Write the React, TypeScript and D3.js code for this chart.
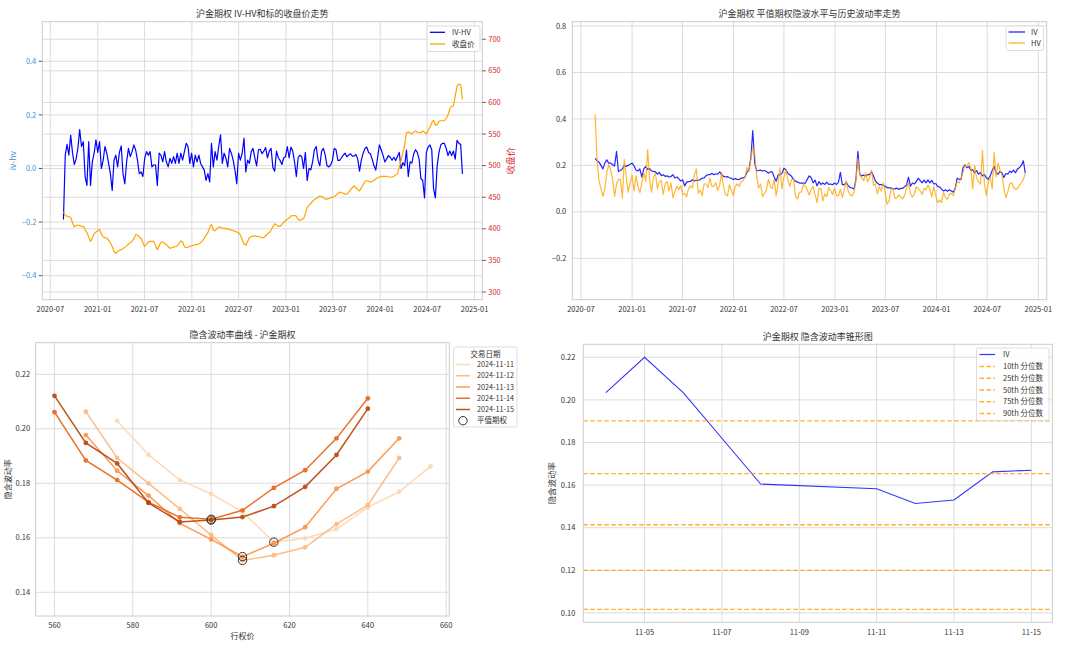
import React from "react";
import * as d3 from "d3";

const W = 1080;
const H = 646;
const FONT = '"Noto Sans CJK SC", "Noto Sans", sans-serif';
const GRID = "#dcdcdc";
const SPINE = "#cccccc";
const TXT = "#333333";

// ---------- top charts: weekly series starting at WEEK_START ----------
const WEEK_START = "2020-08-21";

const ivHv = [
  -0.19, 0.05, 0.09, 0.05, 0.125, 0.06, 0.015, 0.035, 0.075, 0.145,
  0.082, 0.1, -0.03, -0.063, 0.1, -0.063, 0.025, 0.057, 0.107, 0.06,
  0.1, 0.0, 0.031, 0.082, 0.057, 0.019, -0.019, -0.082, 0.031, 0.05,
  0.006, 0.06, 0.084, -0.02, -0.057, 0.025, 0.075, 0.044, 0.063, 0.088,
  0.069, 0.031, -0.019, -0.013, -0.03, 0.038, 0.063, 0.05, 0.063, 0.006,
  0.013, 0.013, -0.063, 0.057, 0.05, 0.025, 0.063, 0.025, 0.006, 0.038,
  0.019, 0.044, 0.019, 0.057, 0.019, 0.057, 0.031, 0.063, 0.094, 0.082,
  0.019, 0.057, 0.006, 0.05, 0.025, 0.05, 0.019, 0.006, -0.006, -0.044,
  -0.019, -0.05, 0.094, 0.006, 0.063, 0.031, 0.082, 0.126, 0.019, 0.057,
  0.038, 0.006, 0.075, 0.057, 0.031, -0.006, -0.057, 0.057, 0.031, 0.057,
  0.113, -0.013, 0.031, 0.019, 0.063, 0.075, 0.04, 0.01, 0.07, 0.072,
  0.055, 0.065, 0.078, 0.04, 0.065, 0.075, 0.004, -0.01, 0.065, 0.04,
  0.03, 0.015, 0.04, 0.044, 0.082, 0.04, 0.08, 0.065, 0.025, -0.03,
  0.04, 0.05, 0.044, 0.0, 0.06, -0.045, 0.0, -0.005, 0.025, 0.07,
  0.082, 0.031, 0.01, 0.065, 0.075, 0.05, 0.01, 0.006, 0.013, 0.031,
  0.075, 0.07, 0.03, 0.03, 0.04, 0.05, 0.057, 0.044, 0.05, 0.055,
  0.046, 0.046, 0.052, 0.035, -0.01, 0.031, 0.057, 0.075, 0.08, 0.06,
  0.055, 0.035, 0.01, -0.006, 0.04, 0.088, 0.07, 0.05, 0.025, 0.035,
  0.048, 0.042, 0.031, 0.042, 0.03, 0.045, 0.06, 0.0, 0.022, 0.01,
  0.069, -0.03, 0.025, 0.02, 0.055, 0.07, 0.06, 0.035, -0.038, -0.044,
  -0.11, 0.06, 0.08, 0.088, 0.07, -0.075, -0.11, 0.01, 0.06, 0.088,
  0.094, 0.094, 0.075, 0.048, 0.065, 0.048, 0.065, 0.035, 0.105, 0.094,
  0.09, -0.02,
];

const closePrice = [
  427, 421, 420, 419, 418, 410, 403, 405, 406, 405,
  404, 404, 399, 394, 387, 380, 386, 392, 395, 397,
  399, 392, 387, 386, 385, 382, 378, 372, 364, 361,
  364, 366, 367, 369, 371, 373, 376, 378, 380, 384,
  391, 390, 387, 385, 378, 372, 376, 379, 380, 380,
  380, 374, 367, 373, 379, 379, 377, 375, 372, 369,
  370, 371, 372, 373, 376, 381, 379, 372, 370, 371,
  372, 373, 374, 375, 375, 376, 378, 381, 385, 390,
  394, 402, 407, 398, 397, 400, 403, 402, 401, 401,
  400, 400, 399, 398, 397, 396, 395, 394, 390, 383,
  376, 374, 380, 386, 388, 388, 389, 388, 388, 387,
  386, 386, 389, 392, 394, 398, 403, 408, 406, 404,
  404, 407, 410, 413, 415, 417, 420, 421, 421, 420,
  415, 413, 415, 416, 424, 434, 437, 440, 444, 446,
  448, 450, 452, 451, 449, 447, 447, 448, 449, 450,
  451, 453, 456, 458, 457, 456, 455, 455, 458, 462,
  465, 468, 465, 462, 460, 465, 470, 475, 476, 475,
  474, 475, 477, 479, 481, 482, 483, 483, 483, 483,
  482, 482, 482, 483, 485, 487, 497, 508, 520, 533,
  552, 553, 552, 550, 553, 555, 553, 552, 552, 555,
  553, 550, 556, 561, 568, 572, 564, 565, 570, 571,
  571, 571, 575, 580, 590, 594, 594, 610, 626, 629,
  628, 605,
];

const atmIv = [
  0.23, 0.22, 0.215, 0.2, 0.185, 0.21, 0.224, 0.21, 0.21, 0.203,
  0.198, 0.26, 0.174, 0.178, 0.185, 0.2, 0.196, 0.2, 0.205, 0.21,
  0.198, 0.18, 0.176, 0.185, 0.15, 0.185, 0.195, 0.183, 0.186, 0.176,
  0.174, 0.172, 0.162, 0.17, 0.156, 0.16, 0.153, 0.155, 0.15, 0.152,
  0.16, 0.146, 0.15, 0.142, 0.133, 0.138, 0.112, 0.128, 0.13, 0.131,
  0.138, 0.133, 0.136, 0.136, 0.139, 0.145, 0.146, 0.156, 0.16, 0.16,
  0.166, 0.16, 0.164, 0.162, 0.172, 0.16, 0.153, 0.15, 0.152, 0.147,
  0.145, 0.139, 0.143, 0.14, 0.139, 0.145, 0.146, 0.15, 0.17, 0.181,
  0.23, 0.35, 0.21, 0.176, 0.178, 0.18, 0.176, 0.178, 0.174, 0.167,
  0.172, 0.172, 0.15, 0.132, 0.158, 0.16, 0.165, 0.188, 0.181, 0.166,
  0.16, 0.152, 0.14, 0.131, 0.128, 0.124, 0.124, 0.124, 0.124, 0.14,
  0.155, 0.148, 0.125, 0.137, 0.112, 0.13, 0.118, 0.124, 0.118, 0.128,
  0.118, 0.12, 0.117, 0.124, 0.118, 0.127, 0.17, 0.117, 0.117, 0.127,
  0.113, 0.105, 0.103, 0.098, 0.14, 0.26, 0.16, 0.155, 0.158, 0.155,
  0.16, 0.16, 0.172, 0.155, 0.133, 0.124, 0.117, 0.117, 0.115, 0.11,
  0.104, 0.103, 0.103, 0.1, 0.099, 0.102, 0.097, 0.101, 0.101, 0.108,
  0.116, 0.15, 0.11, 0.124, 0.12, 0.13, 0.145, 0.135, 0.125, 0.137,
  0.125, 0.138, 0.125, 0.135, 0.12, 0.122, 0.11, 0.107, 0.098, 0.09,
  0.095, 0.089, 0.095, 0.09, 0.085, 0.1, 0.145, 0.14, 0.14, 0.19,
  0.203, 0.19, 0.195, 0.18, 0.181, 0.168, 0.178, 0.162, 0.17, 0.155,
  0.16, 0.147, 0.14, 0.155, 0.178, 0.195, 0.168, 0.162, 0.174, 0.168,
  0.148, 0.165, 0.162, 0.175, 0.17, 0.18, 0.168, 0.185, 0.19, 0.2,
  0.22, 0.167,
];

const histVol = [
  0.42, 0.22, 0.135, 0.1, 0.067, 0.1, 0.17, 0.203, 0.18, 0.139,
  0.067, 0.12, 0.14, 0.14, 0.06, 0.225, 0.15, 0.085, 0.125, 0.158,
  0.09, 0.155, 0.11, 0.083, 0.124, 0.17, 0.13, 0.267, 0.14, 0.085,
  0.15, 0.165, 0.1, 0.13, 0.135, 0.075, 0.12, 0.13, 0.09, 0.125,
  0.06, 0.088, 0.11, 0.095, 0.113, 0.074, 0.08, 0.065, 0.1, 0.112,
  0.103, 0.16, 0.185, 0.08, 0.094, 0.07, 0.12, 0.12, 0.105, 0.145,
  0.11, 0.11, 0.125, 0.092, 0.115, 0.17, 0.105, 0.075, 0.07, 0.117,
  0.093, 0.07, 0.11, 0.12, 0.11, 0.13, 0.134, 0.15, 0.19, 0.175,
  0.225, 0.28, 0.25, 0.155, 0.103, 0.12, 0.065, 0.08, 0.095, 0.14,
  0.11, 0.1, 0.14, 0.07, 0.12, 0.19, 0.1, 0.15, 0.18, 0.14,
  0.11, 0.14, 0.14, 0.067, 0.055, 0.085, 0.085, 0.12, 0.11, 0.095,
  0.072, 0.096, 0.11, 0.075, 0.04, 0.1, 0.1, 0.047, 0.078, 0.065,
  0.105, 0.092, 0.075, 0.1, 0.07, 0.07, 0.097, 0.063, 0.095, 0.135,
  0.09, 0.074, 0.068, 0.085, 0.135, 0.23, 0.16, 0.145, 0.135, 0.168,
  0.128, 0.15, 0.18, 0.115, 0.12, 0.078, 0.11, 0.09, 0.125, 0.085,
  0.033, 0.045, 0.095, 0.1, 0.058, 0.06, 0.073, 0.064, 0.056, 0.072,
  0.1, 0.125, 0.078, 0.064, 0.077, 0.108, 0.1, 0.09, 0.075, 0.1,
  0.095, 0.115, 0.095, 0.065, 0.11, 0.07, 0.04, 0.05, 0.04, 0.085,
  0.06, 0.055, 0.075, 0.08, 0.07, 0.1, 0.13, 0.125, 0.145, 0.17,
  0.2, 0.195, 0.212, 0.19, 0.1, 0.2, 0.145, 0.13, 0.12, 0.265,
  0.12, 0.07, 0.13, 0.15, 0.1, 0.255, 0.15, 0.21, 0.18, 0.16,
  0.1, 0.06, 0.085, 0.12, 0.125, 0.105, 0.097, 0.1, 0.115, 0.125,
  0.14, 0.165,
];

const halfYearTicks = [
  "2020-07-01", "2021-01-01", "2021-07-01", "2022-01-01", "2022-07-01",
  "2023-01-01", "2023-07-01", "2024-01-01", "2024-07-01", "2025-01-01",
];
const ivHvTicks = [-0.4, -0.2, 0, 0.2, 0.4];
const priceTicks = [300, 350, 400, 450, 500, 550, 600, 650, 700];
const volTicks = [-0.2, 0, 0.2, 0.4, 0.6, 0.8];

// ---------- bottom-left: smile ----------
const strikes = [560, 568, 576, 584, 592, 600, 608, 616, 624, 632, 640, 648, 656];
const smileDates = ["2024-11-11", "2024-11-12", "2024-11-13", "2024-11-14", "2024-11-15"];
const smile1111 = [null, null, 0.2029, 0.1905, 0.1812, 0.1761, 0.1695, 0.1584, 0.1598, 0.1632, 0.1712, 0.1769, 0.1862];
const smile1112 = [null, 0.2063, 0.1893, 0.18, 0.1706, 0.161, 0.1517, 0.1536, 0.1565, 0.165, 0.172, 0.1893, null];
const smile1113 = [null, 0.1977, 0.1846, 0.1755, 0.1653, 0.1594, 0.1531, 0.158, 0.1639, 0.178, 0.1843, 0.1965, null];
const smile1114 = [0.2061, 0.1884, 0.1812, 0.1731, 0.1675, 0.1668, 0.1701, 0.1783, 0.1848, 0.1965, 0.2112, null, null];
const smile1115 = [0.2121, 0.1948, 0.1873, 0.1728, 0.1658, 0.1665, 0.1676, 0.1716, 0.1787, 0.1904, 0.2074, null, null];
const atmStrikes = [616, 608, 608, 600, 600];
const smileColors = ["#fdd6ae", "#fdb67a", "#fd8d3c", "#e95e0d", "#b73d02"];
const strikeTicks = [560, 580, 600, 620, 640, 660];
const smileYTicks = [0.14, 0.16, 0.18, 0.2, 0.22];

// ---------- bottom-right: cone ----------
const termDates = [
  "2024-11-04", "2024-11-05", "2024-11-06", "2024-11-07", "2024-11-08",
  "2024-11-11", "2024-11-12", "2024-11-13", "2024-11-14", "2024-11-15",
];
const termIv = [0.2034, 0.22, 0.2034, 0.182, 0.1605, 0.1583, 0.1514, 0.153, 0.1662, 0.167];
const quantileNames = ["10th 分位数", "25th 分位数", "50th 分位数", "75th 分位数", "90th 分位数"];
const quantileValues = [0.1017, 0.12, 0.1414, 0.1654, 0.1902];
const termXTicks = ["2024-11-05", "2024-11-07", "2024-11-09", "2024-11-11", "2024-11-13", "2024-11-15"];
const termYTicks = [0.1, 0.12, 0.14, 0.16, 0.18, 0.2, 0.22];

const parse = d3.timeParse("%Y-%m-%d");

type Box = { l: number; r: number; t: number; b: number };

function Frame({ box }: { box: Box }) {
  return (
    <rect x={box.l} y={box.t} width={box.r - box.l} height={box.b - box.t}
      fill="none" stroke={SPINE} strokeWidth={1} />
  );
}

export default function App() {
  const weekDates = ivHv.map((_, i) => d3.timeDay.offset(parse(WEEK_START)!, 7 * i));
  const halfYears = halfYearTicks.map((s) => parse(s)!);
  const fmtYM = d3.timeFormat("%Y-%m");
  const fmt1 = d3.format(".1f");
  const fmt2 = d3.format(".2f");

  // ----- Chart A -----
  const A: Box = { l: 42.3, r: 482.3, t: 21.7, b: 299.7 };
  const xA = d3.scaleTime().domain([parse("2020-05-31")!, parse("2025-01-31")!]).range([A.l, A.r]);
  const yAl = d3.scaleLinear().domain([-0.4896, 0.5478]).range([A.b, A.t]);
  const yAr = d3.scaleLinear().domain([287.8, 727.8]).range([A.b, A.t]);
  const lineAl = d3.line<number>().x((_, i) => xA(weekDates[i])).y((d) => yAl(d));
  const lineAr = d3.line<number>().x((_, i) => xA(weekDates[i])).y((d) => yAr(d));

  // ----- Chart B -----
  const B: Box = { l: 572.3, r: 1046.7, t: 21.7, b: 299.7 };
  const xB = d3.scaleTime().domain([parse("2020-05-31")!, parse("2025-01-31")!]).range([B.l, B.r]);
  const yB = d3.scaleLinear().domain([-0.378, 0.8185]).range([B.b, B.t]);
  const lineB = d3.line<number>().x((_, i) => xB(weekDates[i])).y((d) => yB(d));

  // ----- Chart C -----
  const C: Box = { l: 35.7, r: 449.3, t: 342.7, b: 616 };
  const xC = d3.scaleLinear().domain([555.2, 660.8]).range([C.l, C.r]);
  const yC = d3.scaleLinear().domain([0.1313, 0.2316]).range([C.b, C.t]);
  const smiles = [smile1111, smile1112, smile1113, smile1114, smile1115];
  const lineC = d3.line<number | null>()
    .defined((d) => d != null)
    .x((_, i) => xC(strikes[i]))
    .y((d) => yC(d as number));

  // ----- Chart D -----
  const D: Box = { l: 583.3, r: 1052.3, t: 344.3, b: 622.3 };
  const tDates = termDates.map((s) => parse(s)!);
  const xD = d3.scaleTime()
    .domain([d3.timeHour.offset(tDates[0], -13.2), d3.timeHour.offset(tDates[tDates.length - 1], 13.2)])
    .range([D.l, D.r]);
  const yD = d3.scaleLinear().domain([0.0956, 0.2261]).range([D.b, D.t]);
  const lineD = d3.line<number>().x((_, i) => xD(tDates[i])).y((d) => yD(d));

  const tickFs = 7.5;
  const titleFs = 9;

  return (
    <div style={{ position: "absolute", left: 0, top: 0 }}>
      <svg width={W} height={H} style={{ display: "block", background: "#fff", fontFamily: FONT }}>
        <rect x={0} y={0} width={W} height={H} fill="#fff" />

        {/* ================= Chart A ================= */}
        <g>
          {halfYears.map((d, i) => (
            <line key={"axg" + i} x1={xA(d)} x2={xA(d)} y1={A.t} y2={A.b} stroke={GRID} strokeWidth={1} />
          ))}
          {ivHvTicks.map((v, i) => (
            <line key={"alg" + i} x1={A.l} x2={A.r} y1={yAl(v)} y2={yAl(v)} stroke={GRID} strokeWidth={1} />
          ))}
          {priceTicks.map((v, i) => (
            <line key={"arg" + i} x1={A.l} x2={A.r} y1={yAr(v)} y2={yAr(v)} stroke={GRID} strokeWidth={1} />
          ))}
          <path d={lineAl(ivHv) || ""} fill="none" stroke="#0000ff" strokeWidth={1.2} strokeLinejoin="round" />
          <path d={lineAr(closePrice) || ""} fill="none" stroke="#ffa500" strokeWidth={1.2} strokeLinejoin="round" />
          <Frame box={A} />
          {ivHvTicks.map((v, i) => (
            <g key={"alt" + i}>
              <line x1={A.l - 3.5} x2={A.l} y1={yAl(v)} y2={yAl(v)} stroke="#333" strokeWidth={0.8} />
              <text x={A.l - 6} y={yAl(v)} dy="0.35em" textAnchor="end" fontSize={tickFs} fill="#3f8fcf">{fmt1(v)}</text>
            </g>
          ))}
          {priceTicks.map((v, i) => (
            <g key={"art" + i}>
              <line x1={A.r} x2={A.r + 3.5} y1={yAr(v)} y2={yAr(v)} stroke="#333" strokeWidth={0.8} />
              <text x={A.r + 6} y={yAr(v)} dy="0.35em" textAnchor="start" fontSize={tickFs} fill="#d62728">{v}</text>
            </g>
          ))}
          {halfYears.map((d, i) => (
            <text key={"axt" + i} x={xA(d)} y={A.b + 12} textAnchor="middle" fontSize={tickFs} fill={TXT}>{fmtYM(d)}</text>
          ))}
          <text x={13} y={(A.t + A.b) / 2} transform={`rotate(-90 13 ${(A.t + A.b) / 2})`} textAnchor="middle" dy="0.35em" fontSize={8.5} fill="#3f8fcf">iv-hv</text>
          <text x={511} y={(A.t + A.b) / 2} transform={`rotate(-90 511 ${(A.t + A.b) / 2})`} textAnchor="middle" dy="0.35em" fontSize={9} fill="#d62728">收盘价</text>
          <text x={(A.l + A.r) / 2} y={16.5} textAnchor="middle" fontSize={titleFs} fill={TXT}>沪金期权 IV-HV和标的收盘价走势</text>
          {/* legend */}
          <rect x={427} y={26} width={53} height={25.5} rx={2} fill="#fff" fillOpacity={0.85} stroke="#d4d4d4" strokeWidth={0.8} />
          <line x1={430} x2={445} y1={32.3} y2={32.3} stroke="#0000ff" strokeWidth={1.3} />
          <text x={452} y={32.3} dy="0.35em" fontSize={7.5} fill={TXT}>IV-HV</text>
          <line x1={430} x2={445} y1={44} y2={44} stroke="#ffa500" strokeWidth={1.3} />
          <text x={452} y={44} dy="0.35em" fontSize={7.5} fill={TXT}>收盘价</text>
        </g>

        {/* ================= Chart B ================= */}
        <g>
          {halfYears.map((d, i) => (
            <line key={"bxg" + i} x1={xB(d)} x2={xB(d)} y1={B.t} y2={B.b} stroke={GRID} strokeWidth={1} />
          ))}
          {volTicks.map((v, i) => (
            <line key={"byg" + i} x1={B.l} x2={B.r} y1={yB(v)} y2={yB(v)} stroke={GRID} strokeWidth={1} />
          ))}
          <path d={lineB(atmIv) || ""} fill="none" stroke="#0000ff" strokeOpacity={0.85} strokeWidth={1.2} strokeLinejoin="round" />
          <path d={lineB(histVol) || ""} fill="none" stroke="#ffa500" strokeOpacity={0.8} strokeWidth={1.2} strokeLinejoin="round" />
          <Frame box={B} />
          {volTicks.map((v, i) => (
            <text key={"byt" + i} x={B.l - 6} y={yB(v)} dy="0.35em" textAnchor="end" fontSize={tickFs} fill={TXT}>{fmt1(v)}</text>
          ))}
          {halfYears.map((d, i) => (
            <text key={"bxt" + i} x={xB(d)} y={B.b + 12} textAnchor="middle" fontSize={tickFs} fill={TXT}>{fmtYM(d)}</text>
          ))}
          <text x={(B.l + B.r) / 2} y={16.5} textAnchor="middle" fontSize={titleFs} fill={TXT}>沪金期权 平值期权隐波水平与历史波动率走势</text>
          <rect x={1006} y={26} width={37.5} height={24.5} rx={2} fill="#fff" fillOpacity={0.85} stroke="#d4d4d4" strokeWidth={0.8} />
          <line x1={1008.5} x2={1025} y1={32} y2={32} stroke="#0000ff" strokeOpacity={0.85} strokeWidth={1.3} />
          <text x={1031} y={32} dy="0.35em" fontSize={7.5} fill={TXT}>IV</text>
          <line x1={1008.5} x2={1025} y1={43} y2={43} stroke="#ffa500" strokeOpacity={0.8} strokeWidth={1.3} />
          <text x={1031} y={43} dy="0.35em" fontSize={7.5} fill={TXT}>HV</text>
        </g>

        {/* ================= Chart C ================= */}
        <g>
          {strikeTicks.map((v, i) => (
            <line key={"cxg" + i} x1={xC(v)} x2={xC(v)} y1={C.t} y2={C.b} stroke={GRID} strokeWidth={1} />
          ))}
          {smileYTicks.map((v, i) => (
            <line key={"cyg" + i} x1={C.l} x2={C.r} y1={yC(v)} y2={yC(v)} stroke={GRID} strokeWidth={1} />
          ))}
          {smiles.map((s, k) => (
            <g key={"sm" + k} opacity={0.88}>
              <path d={lineC(s) || ""} fill="none" stroke={smileColors[k]} strokeWidth={1.5} />
              {s.map((v, i) =>
                v == null ? null : (
                  <circle key={i} cx={xC(strikes[i])} cy={yC(v)} r={2.4} fill={smileColors[k]} />
                )
              )}
            </g>
          ))}
          {smiles.map((s, k) => {
            const idx = strikes.indexOf(atmStrikes[k]);
            const v = s[idx] as number;
            return (
              <circle key={"atm" + k} cx={xC(atmStrikes[k])} cy={yC(v)} r={4.2} fill="none" stroke="#333" strokeWidth={1} />
            );
          })}
          <Frame box={C} />
          {smileYTicks.map((v, i) => (
            <text key={"cyt" + i} x={C.l - 5.5} y={yC(v)} dy="0.35em" textAnchor="end" fontSize={tickFs} fill={TXT}>{fmt2(v)}</text>
          ))}
          {strikeTicks.map((v, i) => (
            <text key={"cxt" + i} x={xC(v)} y={C.b + 12} textAnchor="middle" fontSize={tickFs} fill={TXT}>{v}</text>
          ))}
          <text x={(C.l + C.r) / 2} y={639} textAnchor="middle" fontSize={8} fill={TXT}>行权价</text>
          <text x={8} y={(C.t + C.b) / 2} transform={`rotate(-90 8 ${(C.t + C.b) / 2})`} textAnchor="middle" dy="0.35em" fontSize={8} fill={TXT}>隐含波动率</text>
          <text x={(C.l + C.r) / 2} y={337.5} textAnchor="middle" fontSize={titleFs} fill={TXT}>隐含波动率曲线 - 沪金期权</text>
          {/* legend */}
          <rect x={453.5} y={347} width={63.5} height={80} rx={2} fill="#fff" stroke="#d4d4d4" strokeWidth={0.8} />
          <text x={485.5} y={354} dy="0.35em" textAnchor="middle" fontSize={7.5} fill={TXT}>交易日期</text>
          {smileDates.map((d, k) => (
            <g key={"cl" + k}>
              <line x1={456} x2={470} y1={364.5 + k * 11.25} y2={364.5 + k * 11.25} stroke={smileColors[k]} strokeOpacity={0.88} strokeWidth={1.5} />
              <text x={477} y={364.5 + k * 11.25} dy="0.35em" fontSize={7.2} fill={TXT}>{d}</text>
            </g>
          ))}
          <circle cx={463} cy={420.7} r={4.2} fill="none" stroke="#333" strokeWidth={1} />
          <text x={477} y={420.7} dy="0.35em" fontSize={7.5} fill={TXT}>平值期权</text>
        </g>

        {/* ================= Chart D ================= */}
        <g>
          {termXTicks.map((s, i) => (
            <line key={"dxg" + i} x1={xD(parse(s)!)} x2={xD(parse(s)!)} y1={D.t} y2={D.b} stroke={GRID} strokeWidth={1} />
          ))}
          {termYTicks.map((v, i) => (
            <line key={"dyg" + i} x1={D.l} x2={D.r} y1={yD(v)} y2={yD(v)} stroke={GRID} strokeWidth={1} />
          ))}
          <path d={lineD(termIv) || ""} fill="none" stroke="#0000ff" strokeOpacity={0.8} strokeWidth={1.1} />
          {quantileValues.map((q, i) => (
            <line key={"q" + i} x1={D.l} x2={D.r} y1={yD(q)} y2={yD(q)} stroke="#ffa500" strokeOpacity={0.85} strokeWidth={1.3} strokeDasharray="4.5,2.5" />
          ))}
          <Frame box={D} />
          {termYTicks.map((v, i) => (
            <text key={"dyt" + i} x={D.l - 8} y={yD(v)} dy="0.35em" textAnchor="end" fontSize={tickFs} fill={TXT}>{fmt2(v)}</text>
          ))}
          {termXTicks.map((s, i) => (
            <text key={"dxt" + i} x={xD(parse(s)!)} y={D.b + 13} textAnchor="middle" fontSize={tickFs} fill={TXT}>{s.slice(5)}</text>
          ))}
          <text x={552.5} y={(D.t + D.b) / 2} transform={`rotate(-90 552.5 ${(D.t + D.b) / 2})`} textAnchor="middle" dy="0.35em" fontSize={8.5} fill={TXT}>隐含波动率</text>
          <text x={(D.l + D.r) / 2} y={339.5} textAnchor="middle" fontSize={titleFs} fill={TXT}>沪金期权 隐含波动率锥形图</text>
          {/* legend */}
          <rect x={976.5} y={348} width={72.5} height={72.5} rx={2} fill="#fff" fillOpacity={0.85} stroke="#d4d4d4" strokeWidth={0.8} />
          <line x1={979.5} x2={995} y1={354.5} y2={354.5} stroke="#0000ff" strokeOpacity={0.8} strokeWidth={1.2} />
          <text x={1003} y={354.5} dy="0.35em" fontSize={7.5} fill={TXT}>IV</text>
          {quantileNames.map((n, i) => (
            <g key={"dl" + i}>
              <line x1={979.5} x2={995} y1={366.5 + i * 11.75} y2={366.5 + i * 11.75} stroke="#ffa500" strokeOpacity={0.85} strokeWidth={1.3} strokeDasharray="4.5,2.5" />
              <text x={1003} y={366.5 + i * 11.75} dy="0.35em" fontSize={7.5} fill={TXT}>{n}</text>
            </g>
          ))}
        </g>
      </svg>
    </div>
  );
}
